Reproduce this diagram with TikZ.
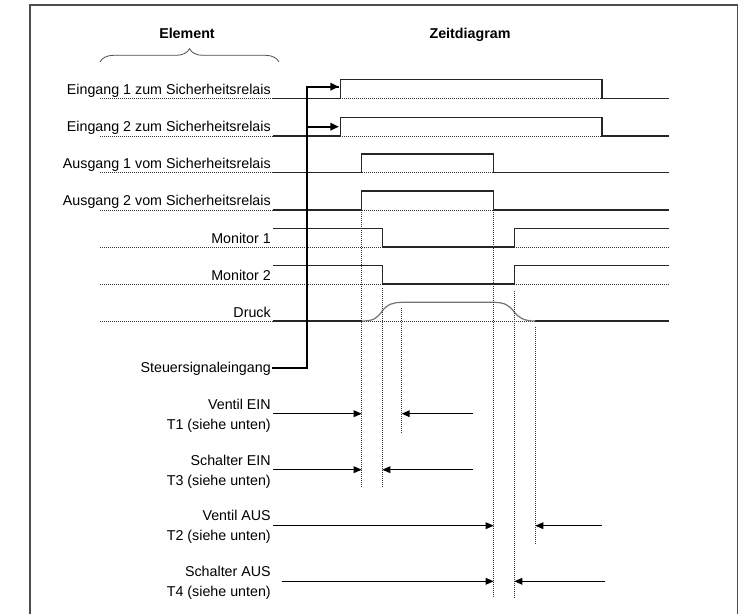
\documentclass[tikz,border=0pt]{standalone}
\usepackage{fontspec}
\setmainfont{Liberation Sans}
\usetikzlibrary{arrows.meta,decorations.pathreplacing}
\newcommand{\lbfont}{\fontsize{10.7}{12}\selectfont}
\begin{document}
\begin{tikzpicture}[x=0.75pt,y=-0.75pt,
  sig/.style={line width=0.85pt, black!85},
  dotl/.style={line width=0.65pt, dash pattern=on 0.75pt off 0.75pt, black!80},
  ctrl/.style={line width=1.7pt, black},
  lbl/.style={anchor=base east, inner sep=0pt, font=\lbfont},
  ttl/.style={anchor=base, inner sep=0pt, font=\lbfont\bfseries},
  arr/.style={line width=0.85pt, black, -{Triangle[length=6pt,width=5pt]}},
  carr/.style={ctrl, -{Triangle[length=6.5pt,width=5.5pt]}}]
\useasboundingbox (0,0) rectangle (744,614);
% frame
\draw[line width=1.1pt, black!70] (30,616) -- (30,5) -- (737.7,5) -- (737.7,616);
% titles
\node[ttl] (tel) at (187,38) {Element};
\node[ttl] (tzd) at (470,38) {Zeitdiagram};
\draw[black!70, line width=0.6pt, decorate, decoration={brace, amplitude=10pt, aspect=0.5}] (100,62) -- (279,62);
% labels
\node[lbl] (l1) at (271,94) {Eingang 1 zum Sicherheitsrelais};
\node[lbl] (l2) at (271,131) {Eingang 2 zum Sicherheitsrelais};
\node[lbl] (l3) at (271,168.3) {Ausgang 1 vom Sicherheitsrelais};
\node[lbl] (l4) at (271,205.7) {Ausgang 2 vom Sicherheitsrelais};
\node[lbl] (l5) at (271,243.3) {Monitor 1};
\node[lbl] (l6) at (271,280) {Monitor 2};
\node[lbl] (l7) at (271,317.3) {Druck};
\node[lbl] (l8) at (271,372) {Steuersignaleingang};
\node[lbl] (t1a) at (271,409.3) {Ventil EIN};
\node[lbl] (t1b) at (271,429.3) {T1 (siehe unten)};
\node[lbl] (t3a) at (271,465) {Schalter EIN};
\node[lbl] (t3b) at (271,485) {T3 (siehe unten)};
\node[lbl] (t2a) at (271,520.7) {Ventil AUS};
\node[lbl] (t2b) at (271,540.7) {T2 (siehe unten)};
\node[lbl] (t4a) at (271,576.7) {Schalter AUS};
\node[lbl] (t4b) at (271,596.7) {T4 (siehe unten)};
% row 1
\draw[dotl] (100,98.3) -- (602,98.3);
\draw[sig] (273,98.3) -- (340.7,98.3) -- (340.7,79.5) -- (602,79.5) -- (602,98.3) -- (669,98.3);
% row 2
\draw[dotl] (100,136) -- (602,136);
\draw[sig] (273,136) -- (340.7,136) -- (340.7,117.3) -- (602,117.3) -- (602,136) -- (669,136);
% row 3
\draw[dotl] (100,172.7) -- (493.7,172.7);
\draw[sig] (273,172.7) -- (361.7,172.7) -- (361.7,154) -- (493.7,154) -- (493.7,172.7) -- (669,172.7);
% row 4
\draw[dotl] (100,210) -- (493.7,210);
\draw[sig] (273,210) -- (361.7,210) -- (361.7,191) -- (493.7,191) -- (493.7,210) -- (669,210);
% row 5
\draw[dotl] (100,247) -- (669,247);
\draw[sig] (273,228.3) -- (382.3,228.3) -- (382.3,247) -- (514.3,247) -- (514.3,228.3) -- (669,228.3);
% row 6
\draw[dotl] (100,284) -- (669,284);
\draw[sig] (273,265.3) -- (382.3,265.3) -- (382.3,284) -- (514.3,284) -- (514.3,265.3) -- (669,265.3);
% row 7 (Druck)
\draw[dotl] (100,321) -- (535.3,321);
\draw[sig] (273,321) -- (361.7,321);
\draw[sig] (535.3,321) -- (669,321);
\draw[line width=0.9pt, black!55] (361.7,321) .. controls (374,321) and (377,318) .. (381.7,311.7)
  .. controls (387,304) and (394,302.3) .. (401.7,302.3) -- (493.5,302.3)
  .. controls (504,302.3) and (509,305) .. (514,311.7)
  .. controls (519,318) and (524,321) .. (535.3,321);
% vertical dotted lines
\draw[dotl] (361.7,210) -- (361.7,488);
\draw[dotl] (382.3,288) -- (382.3,488);
\draw[dotl] (401.7,308) -- (401.7,433);
\draw[dotl] (493.7,210) -- (493.7,598);
\draw[dotl] (514.3,291) -- (514.3,598);
\draw[dotl] (535.3,327) -- (535.3,545);
% control signal
\coordinate (cs) at (272,367.7);
\coordinate (cc) at (307.3,367.7);
\coordinate (cu) at (307.3,86.7);
\coordinate (cb) at (307.3,126.7);
\coordinate (ce1) at (339,86.7);
\coordinate (ce2) at (339,126.7);
\draw[ctrl, line join=miter] (cs) -- (cc) -- (cu) -- (ce1);
\draw[carr] (cu) -- (ce1);
\draw[carr] (cb) -- (ce2);
% time arrows
\coordinate (a1s) at (273,413.7); \coordinate (a1e) at (361.7,413.7);
\coordinate (a1r) at (472.7,413.7); \coordinate (a1f) at (401.7,413.7);
\coordinate (a3s) at (273,469.7); \coordinate (a3e) at (361.7,469.7);
\coordinate (a3r) at (472.7,469.7); \coordinate (a3f) at (382.3,469.7);
\coordinate (a2s) at (273,525.7); \coordinate (a2e) at (493.7,525.7);
\coordinate (a2r) at (601.7,525.7); \coordinate (a2f) at (535.3,525.7);
\coordinate (a4s) at (282,581.3); \coordinate (a4e) at (493.7,581.3);
\coordinate (a4r) at (605,581.3); \coordinate (a4f) at (514.3,581.3);
\draw[arr] (a1s) -- (a1e);
\draw[arr] (a1r) -- (a1f);
\draw[arr] (a3s) -- (a3e);
\draw[arr] (a3r) -- (a3f);
\draw[arr] (a2s) -- (a2e);
\draw[arr] (a2r) -- (a2f);
\draw[arr] (a4s) -- (a4e);
\draw[arr] (a4r) -- (a4f);
\end{tikzpicture}
\end{document}
